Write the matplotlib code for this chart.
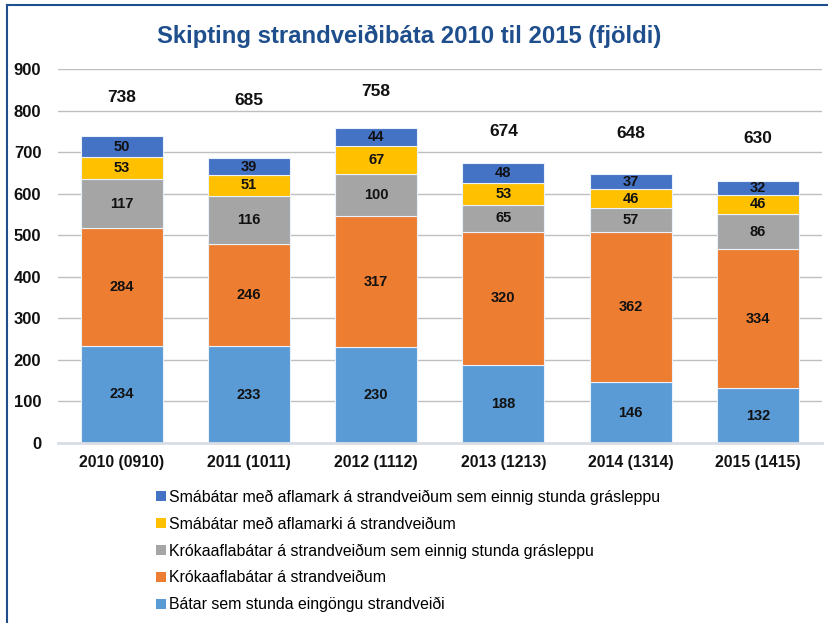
import matplotlib.pyplot as plt
from matplotlib.lines import Line2D
from matplotlib.patches import Patch
import numpy as np

plt.rcParams['font.family'] = ['Liberation Sans', 'DejaVu Sans']

years = ['2010 (0910)', '2011 (1011)', '2012 (1112)', '2013 (1213)', '2014 (1314)', '2015 (1415)']

# neðst -> efst
batar = [234, 233, 230, 188, 146, 132]
krok = [284, 246, 317, 320, 362, 334]
krok_gras = [117, 116, 100, 65, 57, 86]
sma_afl = [53, 51, 67, 53, 46, 46]
sma_gras = [50, 39, 44, 48, 37, 32]

names = ['Bátar sem stunda eingöngu strandveiði',
         'Krókaaflabátar á strandveiðum',
         'Krókaaflabátar á strandveiðum sem einnig stunda grásleppu',
         'Smábátar með aflamarki á strandveiðum',
         'Smábátar með aflamark á strandveiðum sem einnig stunda grásleppu']
colors = ['#5B9BD5', '#ED7D31', '#A5A5A5', '#FFC000', '#4472C4']

# hæð heildartölu fyrir ofan súlu (handsett í upprunalegu myndinni)
total_offset = [94, 140, 87, 77, 98, 104]

series = [batar, krok, krok_gras, sma_afl, sma_gras]

fig = plt.figure(figsize=(8.29, 6.23), dpi=100)
ax = fig.add_axes([0.070, 0.289, 0.921, 0.600])

x = np.arange(len(years))
bottom = np.zeros(len(years))
for vals, c in zip(series, colors):
    ax.bar(x, vals, 0.645, bottom=bottom, color=c, edgecolor='#EAF1FA', linewidth=0.8, zorder=3)
    for xi, b, v in zip(x, bottom, vals):
        ax.text(xi, b + v / 2, str(v), ha='center', va='center', fontsize=10.5,
                fontweight='bold', color='#111111', zorder=4)
    bottom += np.array(vals)

for xi, tot, off in zip(x, bottom, total_offset):
    ax.text(xi, tot + off, str(int(tot)), ha='center', va='center', fontsize=12.5,
            fontweight='bold', color='#111111')

ax.set_xlim(-0.5, len(years) - 0.5)
ax.set_ylim(0, 900)
ax.set_yticks(range(0, 901, 100))
ax.yaxis.grid(True, color='#BFBFBF', linewidth=1)
ax.set_axisbelow(True)
for s in ['top', 'right', 'left']:
    ax.spines[s].set_visible(False)
ax.spines['bottom'].set_color('#D9DDE6')
ax.spines['bottom'].set_linewidth(2)
ax.spines['bottom'].set_zorder(5)
ax.tick_params(length=0)
ax.tick_params(axis='y', pad=12)
ax.tick_params(axis='x', pad=9)
ax.set_xticks(x)
ax.set_xticklabels(years)
for lab in ax.get_xticklabels():
    lab.set_fontweight('bold')
    lab.set_fontsize(11.3)
    lab.set_color('#111111')
for lab in ax.get_yticklabels():
    lab.set_fontweight('bold')
    lab.set_fontsize(12)
    lab.set_color('#111111')

fig.text(0.493, 0.942, 'Skipting strandveiðibáta 2010 til 2015 (fjöldi)', ha='center', va='center',
         fontsize=17.2, fontweight='bold', color='#1F4E8C')

handles = [Patch(facecolor=c) for c in colors][::-1]
fig.legend(handles, names[::-1], loc='upper left', bbox_to_anchor=(0.181, 0.224),
           frameon=False, fontsize=11.4, handlelength=0.6, handleheight=0.6,
           handletextpad=0.2, labelspacing=0.74, borderaxespad=0)

# rammi
fig.add_artist(Line2D([0.0085, 0.0085], [0, 0.992], color='#1F4E8C', linewidth=1.5))
fig.add_artist(Line2D([0.0085, 1.0], [0.992, 0.992], color='#1F4E8C', linewidth=1.5))

fig.savefig('out.png', dpi=100)
